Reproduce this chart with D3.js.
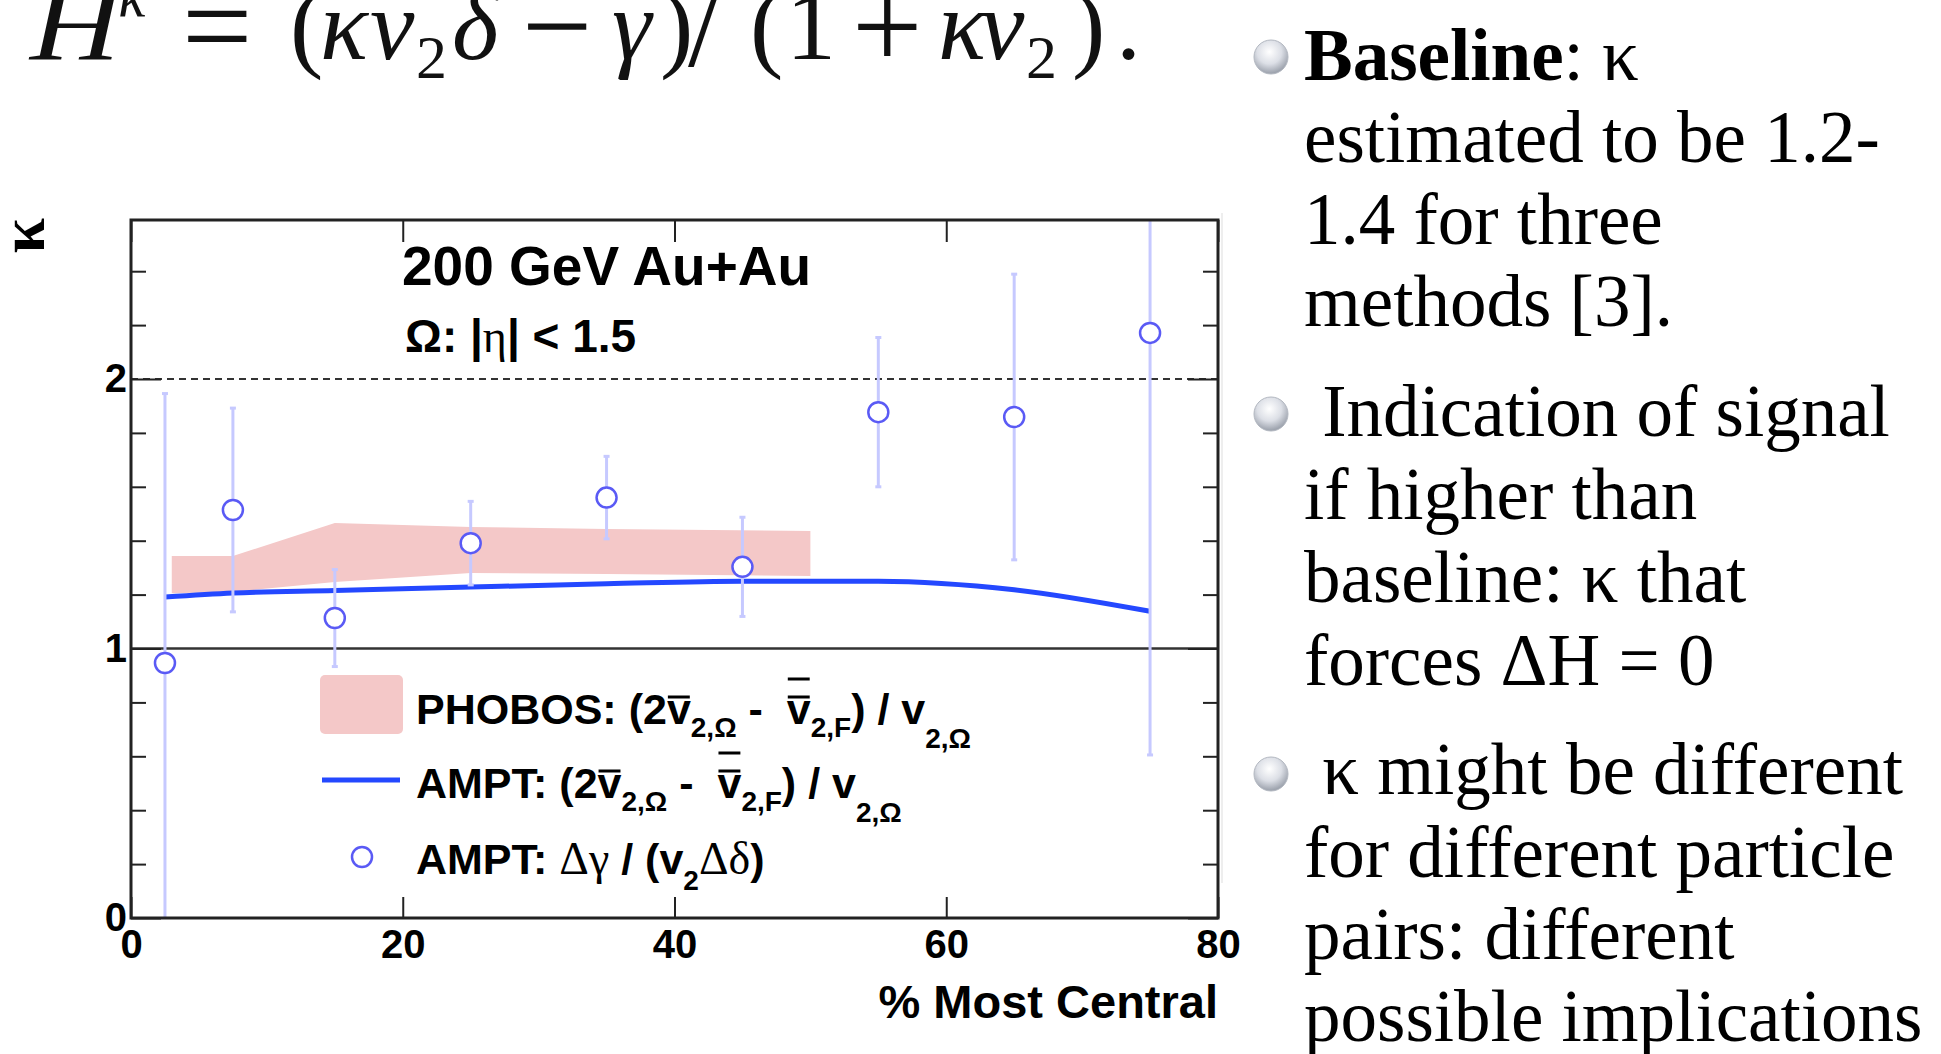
<!DOCTYPE html>
<html>
<head>
<meta charset="utf-8">
<script src="https://cdn.jsdelivr.net/npm/d3@7"></script>
<style>
  body { margin: 0; background: #fff; }
  svg { display: block; }
  .tick text { font-family: "Liberation Sans", Arial, sans-serif; font-weight: bold; font-size: 40px; fill: #000; }
  .tick line { stroke: #222; stroke-width: 2; }
  .leg { font-family: "Liberation Sans", Arial, sans-serif; font-weight: bold; font-size: 43px; fill: #000; }
  .note { font-family: "Liberation Serif", "Times New Roman", serif; font-size: 73px; fill: #000; }
</style>
</head>
<body>
<svg id="drawing_region"></svg>
<script>
// AMPT Delta gamma / (v2 Delta delta) points, per centrality bin
const centrality = [2.5, 7.5, 15, 25, 35, 45, 55, 65, 75];
const kappaAMPT = [0.946, 1.514, 1.113, 1.391, 1.560, 1.303, 1.877, 1.859, 2.171];
const kappaErr = [1.0, 0.378, 0.18, 0.155, 0.153, 0.184, 0.277, 0.53, 1.566];

// AMPT (2v - v)/v curve
const amptX = [2.5, 7.5, 15, 25, 35, 45, 55, 65, 75];
const amptKappa = [1.191, 1.206, 1.215, 1.228, 1.240, 1.250, 1.250, 1.218, 1.138];

// PHOBOS band
const phobosX = [3, 7.5, 15, 25, 35, 50];
const phobosHigh = [1.343, 1.343, 1.466, 1.451, 1.443, 1.436];
const phobosLow = [1.205, 1.21, 1.247, 1.28, 1.276, 1.269];

const xTicks = [0, 20, 40, 60, 80];
const yTicks = [0, 1, 2];
const yMinor = [0.2, 0.4, 0.6, 0.8, 1.2, 1.4, 1.6, 1.8, 2.2, 2.4];

const blue = '#2448ff';
const markBlue = '#5a5af5';
const errColor = '#c6c9ff';
const pink = '#f4c8c8';

const svg = d3.select('#drawing_region')
    .attr('width', 1941)
    .attr('height', 1054);

const x = d3.scaleLinear().domain([0, 80]).range([131, 1218]);
const y = d3.scaleLinear().domain([0, 2.59]).range([918, 220]);

svg.append('clipPath').attr('id', 'plotclip')
    .append('rect')
    .attr('x', x(0)).attr('y', y(2.59))
    .attr('width', x(80) - x(0)).attr('height', y(0) - y(2.59));

// ---- formula at the top (cut by the page edge) ----
const formula = [
    {t: 'H', x: 30, it: true, w: 90},
    {t: 'κ', x: 118, y: 16, size: 60, it: true},
    {t: '=', x: 182, y: 68, size: 125},
    {t: '(', x: 290},
    {t: 'κ', x: 320, it: true},
    {t: 'v', x: 370, it: true},
    {t: '2', x: 416, y: 78, size: 62},
    {t: 'δ', x: 452, it: true},
    {t: '−', x: 522, y: 68, size: 125},
    {t: 'γ', x: 612, it: true},
    {t: ')', x: 660},
    {t: '/', x: 688, y: 66, size: 118},
    {t: '(', x: 750},
    {t: '1', x: 786},
    {t: '+', x: 852, y: 68, size: 125},
    {t: 'κ', x: 938, it: true},
    {t: 'v', x: 980, it: true},
    {t: '2', x: 1026, y: 78, size: 62},
    {t: ')', x: 1072},
    {t: '.', x: 1116}
];
svg.append('g').selectAll('text')
    .data(formula)
    .join('text')
    .attr('x', d => d.x)
    .attr('y', d => d.y || 59)
    .attr('font-family', '"Liberation Serif", "Times New Roman", serif')
    .attr('font-size', d => d.size || 100)
    .attr('font-style', d => d.it ? 'italic' : 'normal')
    .attr('textLength', d => d.w || null)
    .attr('lengthAdjust', d => d.w ? 'spacingAndGlyphs' : null)
    .attr('fill', '#111')
    .text(d => d.t);

// ---- PHOBOS band ----
const band = d3.area()
    .x((d, i) => x(phobosX[i]))
    .y0((d, i) => y(phobosLow[i]))
    .y1((d, i) => y(phobosHigh[i]));
svg.append('path')
    .datum(phobosX)
    .attr('d', band)
    .attr('fill', pink);

// ---- reference lines at 1 and 2 ----
svg.append('line')
    .attr('x1', x(0)).attr('x2', x(80))
    .attr('y1', y(1)).attr('y2', y(1))
    .attr('stroke', '#333').attr('stroke-width', 2.5);
svg.append('line')
    .attr('x1', x(0)).attr('x2', x(80))
    .attr('y1', y(2)).attr('y2', y(2))
    .attr('stroke', '#333').attr('stroke-width', 2)
    .attr('stroke-dasharray', '7,5');

// ---- AMPT curve ----
const line = d3.line()
    .x((d, i) => x(amptX[i]))
    .y(d => y(d))
    .curve(d3.curveMonotoneX);
svg.append('path')
    .datum(amptKappa)
    .attr('d', line)
    .attr('fill', 'none')
    .attr('stroke', blue)
    .attr('stroke-width', 5);

// ---- error bars and points ----
const pts = centrality.map((c, i) => ({c: c, k: kappaAMPT[i], e: kappaErr[i]}));
const eg = svg.append('g').attr('clip-path', 'url(#plotclip)');
eg.selectAll('line.err')
    .data(pts)
    .join('line')
    .attr('class', 'err')
    .attr('x1', d => x(d.c)).attr('x2', d => x(d.c))
    .attr('y1', d => y(d.k - d.e)).attr('y2', d => y(d.k + d.e))
    .attr('stroke', errColor).attr('stroke-width', 3);
eg.selectAll('line.cap')
    .data(pts.flatMap(d => [{c: d.c, v: d.k - d.e}, {c: d.c, v: d.k + d.e}]))
    .join('line')
    .attr('class', 'cap')
    .attr('x1', d => x(d.c) - 3).attr('x2', d => x(d.c) + 3)
    .attr('y1', d => y(d.v)).attr('y2', d => y(d.v))
    .attr('stroke', errColor).attr('stroke-width', 3);
svg.append('g').selectAll('circle')
    .data(pts)
    .join('circle')
    .attr('cx', d => x(d.c))
    .attr('cy', d => y(d.k))
    .attr('r', 10)
    .attr('fill', '#fff')
    .attr('stroke', markBlue)
    .attr('stroke-width', 2.5);

// ---- axes ----
function cleanAxis(g) {
    g.select('.domain').remove();
}
svg.append('g')
    .attr('transform', `translate(0, ${y(0)})`)
    .call(d3.axisBottom(x).tickValues(xTicks).tickSizeInner(-21).tickSizeOuter(0).tickPadding(12).tickFormat(d3.format('d')))
    .call(cleanAxis);
svg.append('g')
    .attr('transform', `translate(0, ${y(2.59)})`)
    .call(d3.axisTop(x).tickValues(xTicks).tickSizeInner(-22).tickSizeOuter(0).tickFormat(''))
    .call(cleanAxis);
svg.append('g')
    .attr('transform', `translate(${x(0)}, 0)`)
    .call(d3.axisLeft(y).tickValues(yMinor).tickSizeInner(-15).tickSizeOuter(0).tickFormat(''))
    .call(cleanAxis);
svg.append('g')
    .attr('transform', `translate(${x(0)}, 0)`)
    .call(d3.axisLeft(y).tickValues(yTicks).tickSizeInner(-30).tickSizeOuter(0).tickPadding(4).tickFormat(d3.format('d')))
    .call(cleanAxis);
svg.append('g')
    .attr('transform', `translate(${x(80)}, 0)`)
    .call(d3.axisRight(y).tickValues(yMinor).tickSizeInner(-15).tickSizeOuter(0).tickFormat(''))
    .call(cleanAxis);
svg.append('g')
    .attr('transform', `translate(${x(80)}, 0)`)
    .call(d3.axisRight(y).tickValues(yTicks).tickSizeInner(-30).tickSizeOuter(0).tickFormat(''))
    .call(cleanAxis);

svg.append('rect')
    .attr('x', x(0)).attr('y', y(2.59))
    .attr('width', x(80) - x(0)).attr('height', y(0) - y(2.59))
    .attr('fill', 'none')
    .attr('stroke', '#222')
    .attr('stroke-width', 3);

// axis titles
svg.append('text')
    .attr('x', x(80)).attr('y', 1018)
    .attr('text-anchor', 'end')
    .attr('font-family', '"Liberation Sans", Arial, sans-serif')
    .attr('font-weight', 'bold')
    .attr('font-size', 47)
    .text('% Most Central');
svg.append('text')
    .attr('transform', 'translate(44, 218) rotate(-90)')
    .attr('text-anchor', 'end')
    .attr('font-family', '"Liberation Serif", serif')
    .attr('font-weight', 'bold')
    .attr('font-size', 64)
    .text('κ');

// labels inside plot
svg.append('text')
    .attr('x', 402).attr('y', 285)
    .attr('font-family', '"Liberation Sans", Arial, sans-serif')
    .attr('font-weight', 'bold')
    .attr('font-size', 55)
    .text('200 GeV Au+Au');
const eta = svg.append('text')
    .attr('x', 405).attr('y', 352)
    .attr('font-family', '"Liberation Sans", Arial, sans-serif')
    .attr('font-weight', 'bold')
    .attr('font-size', 46);
eta.append('tspan').text('Ω: |');
eta.append('tspan').attr('font-weight', 'normal').attr('font-family', '"Liberation Serif", serif').text('η');
eta.append('tspan').text('| < 1.5');

// ---- legend ----
function richText(x0, y0, segs) {
    const t = svg.append('text').attr('class', 'leg').attr('x', x0).attr('y', y0);
    let shift = 0, idx = 0;
    const bars = [];
    segs.forEach(s => {
        const ts = t.append('tspan').text(s.t);
        const off = s.sub || 0;
        ts.attr('dy', off - shift);
        shift = off;
        if (s.size) ts.attr('font-size', s.size);
        if (s.normal) ts.attr('font-weight', 'normal').attr('font-family', '"Liberation Serif", serif').attr('font-size', 46);
        if (s.bars) bars.push({i: idx, n: s.bars});
        idx += s.t.length;
    });
    const node = t.node();
    const barY = [27, 45];
    bars.forEach(b => {
        const a = node.getStartPositionOfChar(b.i).x;
        const e = node.getEndPositionOfChar(b.i).x;
        for (let k = 0; k < b.n; k++) {
            svg.append('line')
                .attr('x1', a + 1).attr('x2', e - 1)
                .attr('y1', y0 - barY[k]).attr('y2', y0 - barY[k])
                .attr('stroke', '#000').attr('stroke-width', 3);
        }
    });
}

svg.append('rect')
    .attr('x', 320).attr('y', 675).attr('width', 83).attr('height', 59)
    .attr('rx', 5)
    .attr('fill', pink);
richText(416, 724, [
    {t: 'PHOBOS: (2'}, {t: 'v', bars: 1}, {t: '2,Ω', sub: 13, size: 28},
    {t: ' -\u00a0 '}, {t: 'v', bars: 2}, {t: '2,F', sub: 13, size: 28},
    {t: ') / v'}, {t: '2,Ω', sub: 24, size: 28}
]);

svg.append('line')
    .attr('x1', 322).attr('x2', 400).attr('y1', 780).attr('y2', 780)
    .attr('stroke', blue).attr('stroke-width', 5);
richText(416, 798, [
    {t: 'AMPT: (2'}, {t: 'v', bars: 1}, {t: '2,Ω', sub: 13, size: 28},
    {t: ' -\u00a0 '}, {t: 'v', bars: 2}, {t: '2,F', sub: 13, size: 28},
    {t: ') / v'}, {t: '2,Ω', sub: 24, size: 28}
]);

svg.append('circle')
    .attr('cx', 362).attr('cy', 857).attr('r', 10)
    .attr('fill', '#fff').attr('stroke', markBlue).attr('stroke-width', 2.5);
richText(416, 874, [
    {t: 'AMPT: '}, {t: 'Δγ', normal: true}, {t: ' / (v'}, {t: '2', sub: 16, size: 28},
    {t: 'Δδ', normal: true}, {t: ')'}
]);

// ---- bullet notes on the right ----
const defs = svg.append('defs');
const grad = defs.append('radialGradient').attr('id', 'ball')
    .attr('cx', '45%').attr('cy', '35%').attr('r', '65%');
grad.append('stop').attr('offset', '0%').attr('stop-color', '#ffffff');
grad.append('stop').attr('offset', '55%').attr('stop-color', '#dcdfe6');
grad.append('stop').attr('offset', '100%').attr('stop-color', '#989ea9');

svg.append('line')
    .attr('x1', 1222).attr('x2', 1222).attr('y1', 213).attr('y2', 883)
    .attr('stroke', '#e8e8e8').attr('stroke-width', 1.5);

const bulletY = [57, 414, 774];
svg.append('g').selectAll('circle')
    .data(bulletY)
    .join('circle')
    .attr('cx', 1271).attr('cy', d => d).attr('r', 17)
    .attr('fill', 'url(#ball)')
    .attr('stroke', '#b3b8c1').attr('stroke-width', 1);

const noteLines = [
    {y: 80, parts: [{t: 'Baseline', b: true}, {t: ': κ'}]},
    {y: 162, parts: [{t: 'estimated to be 1.2-'}]},
    {y: 244, parts: [{t: '1.4 for three'}]},
    {y: 326, parts: [{t: 'methods [3].'}]},
    {y: 436, parts: [{t: '\u00a0Indication of signal'}]},
    {y: 519, parts: [{t: 'if higher than'}]},
    {y: 602, parts: [{t: 'baseline: κ that'}]},
    {y: 685, parts: [{t: 'forces ΔH = 0'}]},
    {y: 794, parts: [{t: '\u00a0κ might be different'}]},
    {y: 877, parts: [{t: 'for different particle'}]},
    {y: 959, parts: [{t: 'pairs: different'}]},
    {y: 1041, parts: [{t: 'possible implications'}]}
];
noteLines.forEach(l => {
    const t = svg.append('text').attr('class', 'note').attr('x', 1304).attr('y', l.y);
    l.parts.forEach(p => {
        const ts = t.append('tspan').text(p.t);
        if (p.b) ts.attr('font-weight', 'bold');
    });
});
</script>
</body>
</html>
